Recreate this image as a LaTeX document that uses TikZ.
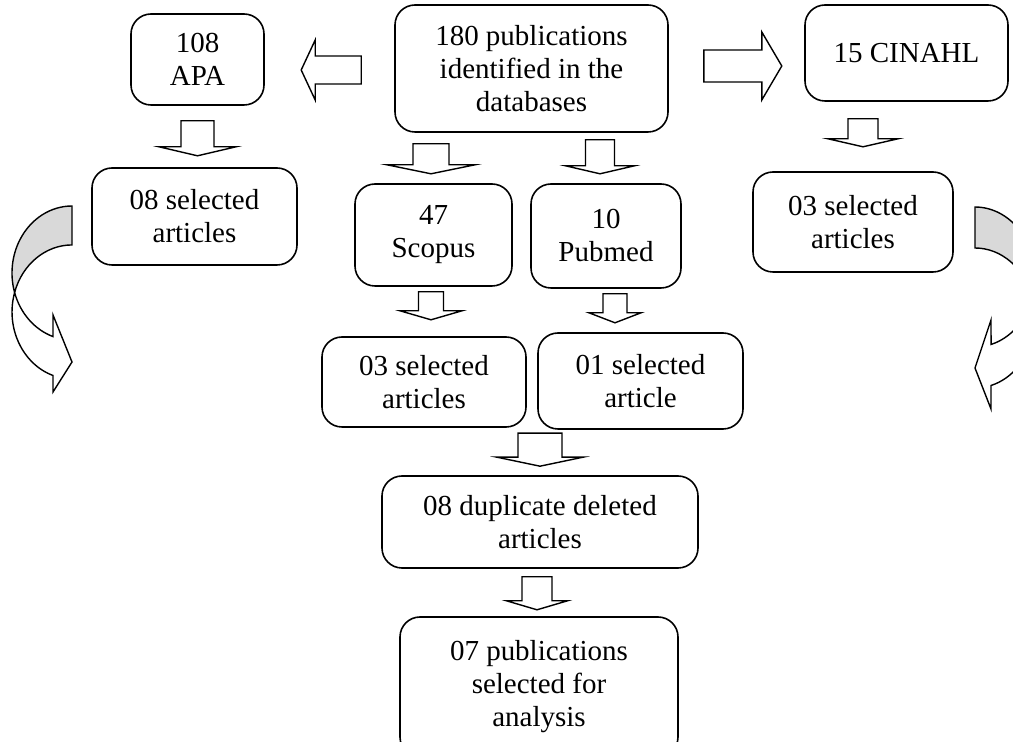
\documentclass[tikz,border=0pt]{standalone}
\usepackage{fontspec}
\setmainfont{Liberation Serif}
\usetikzlibrary{calc}

\tikzset{
  pics/blockarrow/.style args={#1/#2/#3/#4}{code={
    \draw[line width=1.4pt, fill=white] (-#1,0) -- (#1,0) -- (#1,-#3) -- (#2,-#3)
      -- (0,-#3-#4) -- (-#2,-#3) -- (-#1,-#3) -- cycle;
  }}
}

\begin{document}
\begin{tikzpicture}[x=1pt, y=1pt,
  box/.style={draw, rounded corners=20pt, line width=1.6pt, align=center,
    inner sep=0pt, font=\fontsize{29}{33}\selectfont},
  curved/.style={draw, line width=1.4pt}]
\useasboundingbox (0,0) rectangle (1013,742);
\clip (0,0) rectangle (1013,742);
% boxes
\node[box, minimum width=133pt, minimum height=91pt] (apa) at (197.5,682.5) {108\\APA};
\node[box, minimum width=273pt, minimum height=127pt] (main) at (531.5,673.5) {180 publications\\identified in the\\databases};
\node[box, minimum width=203pt, minimum height=96pt] (cinahl) at (906.5,689) {15 CINAHL};
\node[box, minimum width=205pt, minimum height=97pt] (apasel) at (194.5,525.5) {08 selected\\articles};
\node[box, minimum width=157pt, minimum height=102pt] (scopus) at (433.5,507) {47\\Scopus};
\node[box, minimum width=150pt, minimum height=104pt] (pubmed) at (606,506) {10\\Pubmed};
\node[box, minimum width=200pt, minimum height=100pt] (cinahlsel) at (853,520) {03 selected\\articles};
\node[box, minimum width=204pt, minimum height=90pt] (scopussel) at (424,360) {03 selected\\articles};
\node[box, minimum width=205pt, minimum height=96pt] (pubmedsel) at (640.5,361) {01 selected\\article};
\node[box, minimum width=316pt, minimum height=92pt] (dup) at (540,220) {08 duplicate deleted\\articles};
\node[box, minimum width=278pt, minimum height=140pt] (final) at (539,55) {07 publications\\selected for\\analysis};
% block arrows
\pic[rotate=-90] at ($(main.west)+(-33,-1.5)$) {blockarrow=14/30/46/14};
\pic[rotate=90] at ($(main.east)+(35,2.5)$) {blockarrow=16/34/58/20};
\pic at ($(apa.south)+(0,-15)$) {blockarrow=16.5/38.5/26/9};
\pic at ($(main.south -| scopus.north)+(-2.5,-11)$) {blockarrow=18/44/21/9};
\pic at ($(main.south -| pubmed.north)+(-6,-7)$) {blockarrow=14.5/34.5/26/8};
\pic at ($(cinahl.south -| cinahlsel.north)+(10,-17)$) {blockarrow=15/35/20/8};
\pic at ($(scopus.south)+(-2.5,-5)$) {blockarrow=12.5/31/19/9};
\pic at ($(pubmed.south)+(9,-5)$) {blockarrow=12/26/19/10};
\pic at ($(dup.north)+(0,42)$) {blockarrow=22/43/24/9};
\pic at ($(dup.south)+(-3,-8)$) {blockarrow=15/30.5/24/9};
% curved arrow, left
\filldraw[curved, fill=gray!30] (72,536)
  arc[start angle=90, end angle=196.9, x radius=60, y radius=67]
  arc[start angle=163.1, end angle=90, x radius=60, y radius=67] -- cycle;
\filldraw[curved, fill=white] (14.6,449.5)
  arc[start angle=196.9, end angle=251.5, x radius=60, y radius=67]
  -- (53,427) -- (72,380) -- (53,350) -- (53,366.5)
  arc[start angle=251.5, end angle=163.1, x radius=60, y radius=67] -- cycle;
% curved arrow, right
\filldraw[curved, fill=gray!30] (975,535)
  arc[start angle=90, end angle=-17.03, x radius=60, y radius=70]
  arc[start angle=17.03, end angle=90, x radius=60, y radius=70] -- cycle;
\filldraw[curved, fill=white] (1032.4,444.5)
  arc[start angle=-17.03, end angle=-74.5, x radius=60, y radius=70]
  -- (991,422) -- (975,374) -- (991,333) -- (991,356.5)
  arc[start angle=-74.5, end angle=17.03, x radius=60, y radius=70] -- cycle;
\end{tikzpicture}
\end{document}
